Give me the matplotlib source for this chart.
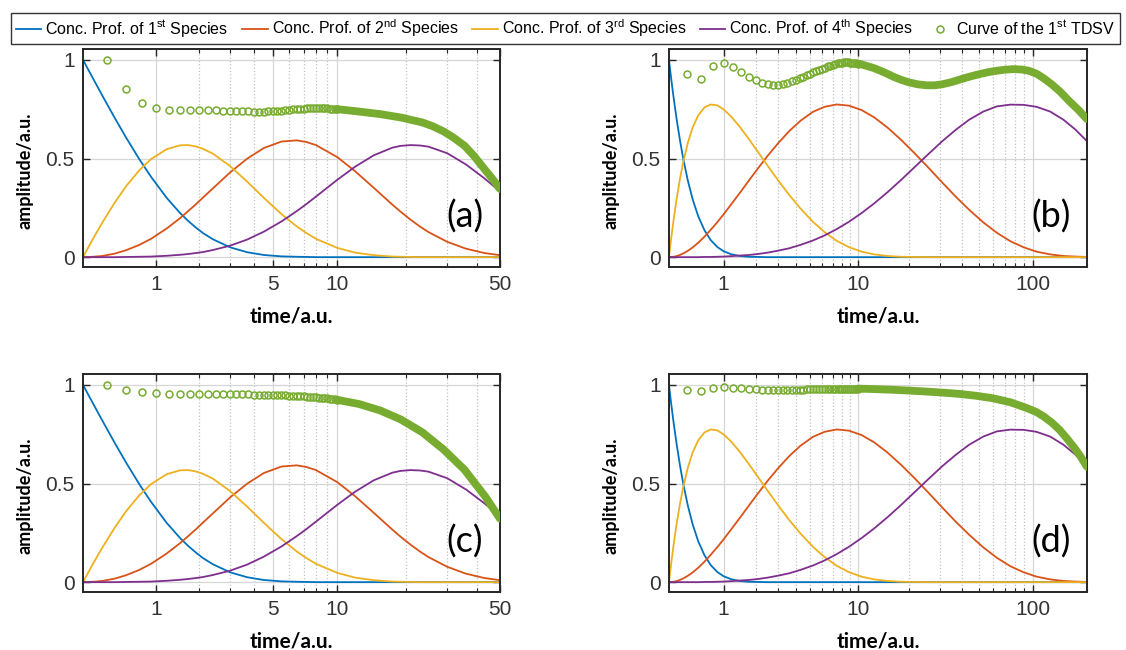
import numpy as np
import matplotlib
matplotlib.use("Agg")
import matplotlib.pyplot as plt
from matplotlib import font_manager
from matplotlib.lines import Line2D
from matplotlib.ticker import NullFormatter

# ---- concentration profiles, panels (a) and (c) ----
t_ac = [0, 0.1, 0.2, 0.35, 0.5, 0.7, 0.9, 1.2, 1.5, 1.7, 1.9, 2.1, 2.4, 3, 3.7, 4.5,
        5.5, 6.5, 7.2, 8, 10, 12, 14.5, 17.5, 19, 21, 23, 25, 30, 36, 43, 50]
sp1_ac = [1.0, 0.905, 0.819, 0.705, 0.607, 0.497, 0.407, 0.301, 0.223, 0.183, 0.150,
          0.122, 0.091, 0.050, 0.025, 0.011, 0.004, 0.002, 0.001, 0.0, 0.0, 0.0, 0.0,
          0.0, 0.0, 0.0, 0.0, 0.0, 0.0, 0.0, 0.0, 0.0]
sp2_ac = [0.0, 0.002, 0.006, 0.018, 0.035, 0.062, 0.093, 0.145, 0.198, 0.234, 0.268,
          0.302, 0.348, 0.429, 0.499, 0.553, 0.586, 0.592, 0.584, 0.568, 0.507, 0.436,
          0.352, 0.266, 0.230, 0.189, 0.155, 0.127, 0.078, 0.043, 0.021, 0.010]
sp3_ac = [0.0, 0.094, 0.175, 0.277, 0.359, 0.440, 0.497, 0.547, 0.567, 0.568, 0.561,
          0.549, 0.525, 0.462, 0.383, 0.301, 0.218, 0.156, 0.123, 0.093, 0.047, 0.023,
          0.010, 0.003, 0.002, 0.001, 0.0, 0.0, 0.0, 0.0, 0.0, 0.0]
sp4_ac = [0.0, 0.0, 0.0, 0.0, 0.001, 0.002, 0.003, 0.007, 0.012, 0.016, 0.021, 0.026,
          0.036, 0.058, 0.089, 0.129, 0.181, 0.233, 0.268, 0.307, 0.392, 0.458, 0.516,
          0.555, 0.564, 0.568, 0.566, 0.560, 0.527, 0.470, 0.400, 0.333]

# ---- concentration profiles, panels (b) and (d) ----
t_bd = [0, 0.03, 0.06, 0.1, 0.15, 0.2, 0.27, 0.35, 0.45, 0.57, 0.7, 0.85, 1.0, 1.2,
        1.45, 1.75, 2.1, 2.5, 3, 3.6, 4.3, 5.2, 6.2, 7.4, 8.8, 10.5, 12.5, 15, 18,
        21.5, 26, 31, 37, 44, 53, 63, 75, 89, 105, 125, 148, 172, 200]
sp1_bd = [1.0, 0.900, 0.811, 0.705, 0.592, 0.497, 0.389, 0.294, 0.207, 0.136, 0.086,
          0.051, 0.030, 0.015, 0.006, 0.002, 0.001, 0.0, 0.0, 0.0, 0.0, 0.0, 0.0, 0.0,
          0.0, 0.0, 0.0, 0.0, 0.0, 0.0, 0.0, 0.0, 0.0, 0.0, 0.0, 0.0, 0.0, 0.0, 0.0,
          0.0, 0.0, 0.0, 0.0]
sp2_bd = [0.0, 0.001, 0.002, 0.005, 0.011, 0.019, 0.032, 0.049, 0.073, 0.104, 0.139,
          0.178, 0.217, 0.267, 0.324, 0.387, 0.451, 0.514, 0.578, 0.639, 0.691, 0.736,
          0.762, 0.774, 0.768, 0.746, 0.709, 0.657, 0.595, 0.528, 0.452, 0.379, 0.307,
          0.241, 0.176, 0.124, 0.081, 0.050, 0.028, 0.014, 0.006, 0.003, 0.001]
sp3_bd = [0.0, 0.099, 0.187, 0.290, 0.397, 0.484, 0.579, 0.657, 0.719, 0.759, 0.774,
          0.769, 0.749, 0.713, 0.662, 0.600, 0.532, 0.463, 0.389, 0.315, 0.247, 0.180,
          0.127, 0.083, 0.051, 0.028, 0.014, 0.006, 0.002, 0.001, 0.0, 0.0, 0.0, 0.0,
          0.0, 0.0, 0.0, 0.0, 0.0, 0.0, 0.0, 0.0, 0.0]
sp4_bd = [0.0, 0.0, 0.0, 0.0, 0.0, 0.0, 0.0, 0.0, 0.0, 0.001, 0.001, 0.002, 0.003,
          0.005, 0.008, 0.011, 0.016, 0.023, 0.033, 0.045, 0.062, 0.084, 0.110, 0.142,
          0.179, 0.223, 0.272, 0.329, 0.391, 0.455, 0.524, 0.587, 0.645, 0.696, 0.738,
          0.764, 0.773, 0.772, 0.762, 0.738, 0.697, 0.648, 0.588]

# ---- 1st TDSV curves: separate markers at early times ----
t_tdsv = [0.25, 0.5, 0.75, 1.0, 1.25, 1.5, 1.75, 2.0, 2.25, 2.5, 2.75, 3.0, 3.25, 3.5,
          3.75, 4.0, 4.25, 4.5, 4.75, 5.0, 5.25, 5.5, 5.75, 6.0, 6.25, 6.5, 6.75, 7.0,
          7.25, 7.5, 7.75, 8.0, 8.25, 8.5, 8.75, 9.0, 9.25, 9.5, 9.75, 10.0]
tdsv_a = [1.0, 0.851, 0.779, 0.755, 0.748, 0.747, 0.748, 0.748, 0.746, 0.744, 0.742,
          0.741, 0.740, 0.739, 0.739, 0.738, 0.738, 0.738, 0.739, 0.740, 0.741, 0.743,
          0.745, 0.747, 0.749, 0.751, 0.752, 0.753, 0.754, 0.755, 0.755, 0.755, 0.755,
          0.755, 0.754, 0.754, 0.753, 0.752, 0.751, 0.750]
tdsv_b = [0.927, 0.904, 0.971, 0.986, 0.966, 0.941, 0.915, 0.899, 0.883, 0.877, 0.873,
          0.872, 0.876, 0.884, 0.891, 0.898, 0.907, 0.915, 0.922, 0.929, 0.937, 0.944,
          0.950, 0.956, 0.961, 0.967, 0.971, 0.975, 0.979, 0.982, 0.984, 0.986, 0.987,
          0.987, 0.987, 0.986, 0.985, 0.984, 0.983, 0.980]
tdsv_c = [1.0, 0.975, 0.963, 0.958, 0.956, 0.955, 0.955, 0.955, 0.954, 0.954, 0.953,
          0.953, 0.953, 0.952, 0.952, 0.951, 0.951, 0.950, 0.950, 0.949, 0.949, 0.948,
          0.947, 0.946, 0.945, 0.944, 0.943, 0.942, 0.941, 0.940, 0.938, 0.937, 0.935,
          0.934, 0.932, 0.931, 0.929, 0.928, 0.926, 0.924]
tdsv_d = [0.975, 0.971, 0.983, 0.988, 0.986, 0.983, 0.980, 0.977, 0.975, 0.974, 0.973,
          0.973, 0.973, 0.974, 0.974, 0.975, 0.976, 0.976, 0.977, 0.977, 0.978, 0.978,
          0.979, 0.979, 0.980, 0.980, 0.980, 0.981, 0.981, 0.981, 0.981, 0.981, 0.981,
          0.981, 0.981, 0.981, 0.981, 0.981, 0.981, 0.981]

# ---- 1st TDSV curves: later times, where the markers merge into a band ----
tb_a = [10, 12.5, 15.5, 19, 23.5, 26, 29, 32, 35.5, 39, 43.5, 47, 50]
band_a = [0.750, 0.738, 0.725, 0.708, 0.683, 0.664, 0.637, 0.605, 0.565, 0.512,
          0.440, 0.390, 0.346]
tb_b = [10, 10.3, 12.5, 14.5, 16.2, 18, 20, 22.5, 25.3, 28, 31, 35, 39, 44, 50, 56,
        62, 70, 78, 87, 95, 105, 115, 128, 142, 160, 180, 200]
band_b = [0.980, 0.979, 0.958, 0.935, 0.915, 0.899, 0.886, 0.876, 0.871, 0.871, 0.876,
          0.887, 0.900, 0.914, 0.927, 0.937, 0.944, 0.950, 0.953, 0.951, 0.945, 0.930,
          0.907, 0.875, 0.839, 0.790, 0.745, 0.700]
tb_c = [10, 12.5, 15.5, 19, 23.5, 29, 35.5, 43.5, 50]
band_c = [0.924, 0.903, 0.870, 0.825, 0.760, 0.672, 0.570, 0.432, 0.322]
tb_d = [10, 13, 16.2, 20, 25.3, 32, 39, 48, 60, 75, 93, 105, 115, 128, 141, 155, 170,
        185, 200]
band_d = [0.981, 0.978, 0.975, 0.971, 0.966, 0.960, 0.954, 0.945, 0.932, 0.912,
          0.882, 0.862, 0.840, 0.808, 0.772, 0.728, 0.682, 0.635, 0.585]

ticks_ac = [1, 5, 10, 50]
minor_ac = [2, 3, 4, 6, 7, 8, 9, 20, 30, 40]
ticks_bd = [1, 10, 100]
minor_bd = [2, 3, 4, 5, 6, 7, 8, 9, 20, 30, 40, 50, 60, 70, 80, 90, 200]

legend_labels = [r"Conc. Prof. of 1$^{\mathrm{st}}$ Species",
                 r"Conc. Prof. of 2$^{\mathrm{nd}}$ Species",
                 r"Conc. Prof. of 3$^{\mathrm{rd}}$ Species",
                 r"Conc. Prof. of 4$^{\mathrm{th}}$ Species",
                 r"Curve of the 1$^{\mathrm{st}}$ TDSV"]

c_blue, c_red, c_yellow, c_purple, c_green = "#0072BD", "#D95319", "#EDB120", "#7E2F8E", "#77AC30"

installed = {f.name for f in font_manager.fontManager.ttflist}


def pick(*names):
    for n in names:
        if n in installed:
            return n
    return "DejaVu Sans"


tick_font = pick("Liberation Sans", "Arial")
label_font = pick("Lato", "Open Sans", "DejaVu Sans")
legend_font = pick("Liberation Sans", "Arial")

plt.rcParams["mathtext.fontset"] = "custom"
plt.rcParams["mathtext.rm"] = legend_font
plt.rcParams["mathtext.it"] = legend_font
plt.rcParams["mathtext.bf"] = legend_font

fig = plt.figure(figsize=(11.26, 6.5), dpi=100)

panels = [
    ("(a)", [0.0737, 0.5892, 0.3703, 0.3354], t_ac, (sp1_ac, sp2_ac, sp3_ac, sp4_ac),
     tdsv_a, tb_a, band_a, 50, ticks_ac, minor_ac),
    ("(b)", [0.5941, 0.5892, 0.3712, 0.3354], t_bd, (sp1_bd, sp2_bd, sp3_bd, sp4_bd),
     tdsv_b, tb_b, band_b, 200, ticks_bd, minor_bd),
    ("(c)", [0.0737, 0.0892, 0.3703, 0.3354], t_ac, (sp1_ac, sp2_ac, sp3_ac, sp4_ac),
     tdsv_c, tb_c, band_c, 50, ticks_ac, minor_ac),
    ("(d)", [0.5941, 0.0892, 0.3712, 0.3354], t_bd, (sp1_bd, sp2_bd, sp3_bd, sp4_bd),
     tdsv_d, tb_d, band_d, 200, ticks_bd, minor_bd),
]

for tag, rect, t, profs, tdsv, tb, band, tmax, major, minor in panels:
    ax = fig.add_axes(rect)
    # the time axis is logarithmic in (1 + t), so t = 0 sits on the left edge
    ax.set_xscale("function", functions=(np.log1p, np.expm1))
    for y, col in zip(profs, (c_blue, c_red, c_yellow, c_purple)):
        ax.plot(t, y, color=col, lw=1.3)
    ax.plot(tb, band, color=c_green, lw=5.6, solid_capstyle="round", zorder=4)
    ax.plot(t_tdsv, tdsv, ls="none", marker="o", ms=5.0, mfc="none", mec=c_green,
            mew=1.1, zorder=5)
    ax.set_xlim(0, tmax)
    ax.set_ylim(-0.05, 1.055)
    ax.set_xticks(major)
    ax.set_xticklabels([str(v) for v in major])
    ax.set_xticks(minor, minor=True)
    ax.xaxis.set_minor_formatter(NullFormatter())
    ax.set_yticks([0, 0.5, 1])
    ax.set_yticklabels(["0", "0.5", "1"])
    ax.grid(True, which="major", color="#d6d6d6", lw=0.9, ls="-")
    ax.grid(True, which="minor", axis="x", color="#c2c2c2", lw=0.9, ls=":")
    ax.set_axisbelow(True)
    ax.tick_params(which="both", direction="in", top=True, right=True, color="#262626")
    ax.tick_params(which="major", length=5, width=1.0, labelsize=15, labelcolor="#333333",
                   pad=6)
    ax.tick_params(which="minor", length=3, width=0.8)
    for lab in ax.get_xticklabels() + ax.get_yticklabels():
        lab.set_family(tick_font)
    for s in ax.spines.values():
        s.set_color("#262626")
        s.set_linewidth(1.4)
    ax.set_xlabel("time/a.u.", fontsize=15, fontweight="bold", family=label_font,
                  labelpad=9)
    ax.set_ylabel("amplitude/a.u.", fontsize=13, fontweight="bold", family=label_font)
    ax.yaxis.set_label_coords(-0.118, 0.44)
    ax.text(0.915, 0.23, tag, transform=ax.transAxes, ha="center", va="center",
            fontsize=26, family=label_font)

handles = [Line2D([], [], color=c, lw=1.3) for c in (c_blue, c_red, c_yellow, c_purple)]
handles.append(Line2D([], [], ls="none", marker="o", ms=5.0, mfc="none", mec=c_green,
                      mew=1.1))
fig.legend(handles, legend_labels, loc="upper center", ncol=5,
           bbox_to_anchor=(565.5 / 1126, 1 - 13 / 650),
           prop={"family": legend_font, "size": 11.5}, frameon=True, fancybox=False,
           edgecolor="#333333", framealpha=1, borderpad=0.3, handlelength=1.6,
           handletextpad=0.25, columnspacing=0.85, borderaxespad=0)

plt.savefig("out.png", dpi=100)
